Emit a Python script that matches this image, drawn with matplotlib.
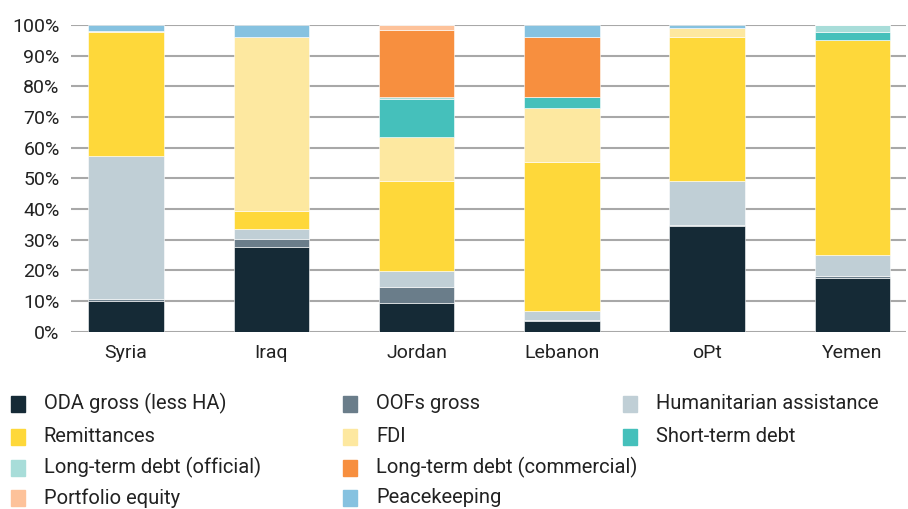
import matplotlib
matplotlib.use('Agg')
import matplotlib.pyplot as plt
from matplotlib.patches import Rectangle
from matplotlib.ticker import PercentFormatter
import numpy as np

plt.rcParams['font.family'] = ['Roboto', 'DejaVu Sans']

countries = ["Syria", "Iraq", "Jordan", "Lebanon", "oPt", "Yemen"]

series = [
    "ODA gross (less HA)", "OOFs gross", "Humanitarian assistance",
    "Remittances", "FDI", "Short-term debt",
    "Long-term debt (official)", "Long-term debt (commercial)",
    "Portfolio equity", "Peacekeeping",
]
colors = ["#152a36", "#6a7d8a", "#c0cfd6", "#fed83a", "#fde8a0", "#45c0bb",
          "#a8ddd9", "#f78f3f", "#fdc29a", "#86c2e0"]

# shares in % (Syria, Iraq, Jordan, Lebanon, oPt, Yemen)
oda = [10.2, 27.5, 9.5, 3.4, 34.4, 17.4]
oofs = [0.6, 2.9, 5.2, 0.6, 0.5, 0.7]
ha = [46.5, 3.2, 5.2, 2.7, 14.1, 6.8]
remittances = [40.5, 5.8, 29.1, 48.5, 47.2, 70.2]
fdi = [0.3, 56.8, 14.5, 17.9, 2.9, 0.0]
short_debt = [0.0, 0.0, 12.5, 3.3, 0.0, 2.7]
lt_official = [0.0, 0.0, 0.6, 0.0, 0.0, 2.2]
lt_commercial = [0.0, 0.0, 21.9, 19.8, 0.0, 0.0]
portfolio = [0.0, 0.0, 1.5, 0.0, 0.0, 0.0]
peacekeeping = [1.9, 3.8, 0.0, 3.8, 0.9, 0.0]

values = [oda, oofs, ha, remittances, fdi, short_debt,
          lt_official, lt_commercial, portfolio, peacekeeping]

fig = plt.figure(figsize=(9.08, 5.09), dpi=100)
ax = fig.add_axes([0.078, 0.348, 0.92, 0.603])

x = np.arange(len(countries))
bottom = np.zeros(len(countries))
for name, vals, c in zip(series, values, colors):
    vals = np.array(vals)
    ax.bar(x, vals, bottom=bottom, width=0.52, color=c, edgecolor='white',
           linewidth=0.4, zorder=3)
    bottom += vals

ax.set_ylim(0, 100)
ax.set_xlim(-0.38, 5.37)
ax.set_yticks(range(0, 101, 10))
ax.yaxis.set_major_formatter(PercentFormatter(decimals=0))
ax.set_xticks(x)
ax.set_xticklabels(countries)
ax.grid(axis='y', color='#a8a8a8', linewidth=1.5, zorder=0)
for s in ax.spines.values():
    s.set_visible(False)
ax.tick_params(length=0, labelsize=14, colors='#222222', pad=8)
ax.tick_params(axis='x', pad=9)

# legend laid out row-wise like the original
col_x = [0.012, 0.378, 0.686]
row_y = [0.207, 0.143, 0.082, 0.022]
for i, (name, c) in enumerate(zip(series, colors)):
    r, col = divmod(i, 3)
    if i >= 6:
        r, col = 2 + (i - 6) // 2, (i - 6) % 2
    fig.add_artist(Rectangle((col_x[col], row_y[r] - 0.017), 0.015, 0.032,
                             transform=fig.transFigure, color=c))
    fig.text(col_x[col] + 0.036, row_y[r], name, fontsize=14.5,
             color='#222222', va='center')

plt.savefig("out.png", dpi=100)
plt.close()
